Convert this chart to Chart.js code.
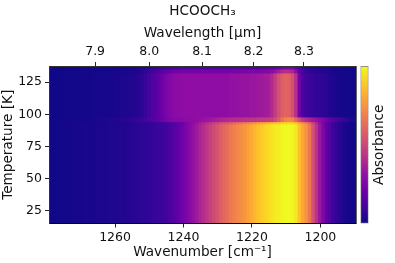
<!DOCTYPE html>
<html>
<head>
<meta charset="utf-8">
<script src="https://cdn.jsdelivr.net/npm/chart.js@4"></script>
<style>
  html, body { margin: 0; padding: 0; background: #fff; }
  #wrap { position: relative; width: 395px; height: 263px; filter: blur(0.5px); }
  #heat { position: absolute; left: 0; top: 0; }
  #cbar { position: absolute; left: 357px; top: 0; }
</style>
</head>
<body>
<div id="wrap">
  <canvas id="heat" width="395" height="263"></canvas>
  <canvas id="cbar" width="38" height="263"></canvas>
</div>
<script>
// wavenumber of each column, 1279 down to 1189 cm-1
var wavenumbers = [
  1279,1278,1277,1276,1275,1274,1273,1272,1271,1270,
  1269,1268,1267,1266,1265,1264,1263,1262,1261,1260,
  1259,1258,1257,1256,1255,1254,1253,1252,1251,1250,
  1249,1248,1247,1246,1245,1244,1243,1242,1241,1240,
  1239,1238,1237,1236,1235,1234,1233,1232,1231,1230,
  1229,1228,1227,1226,1225,1224,1223,1222,1221,1220,
  1219,1218,1217,1216,1215,1214,1213,1212,1211,1210,
  1209,1208,1207,1206,1205,1204,1203,1202,1201,1200,
  1199,1198,1197,1196,1195,1194,1193,1192,1191,1190,1189
];

// absorbance per column, one list per temperature band
var amorphous = [
  .005,.006,.008,.010,.012,.014,.016,.018,.019,.021,
  .023,.024,.026,.027,.028,.030,.031,.032,.034,.036,
  .038,.040,.043,.046,.049,.053,.057,.061,.065,.070,
  .075,.080,.085,.090,.10,.12,.14,.16,.19,.22,
  .25,.28,.31,.345,.38,.41,.445,.48,.51,.54,
  .58,.61,.635,.665,.69,.71,.73,.75,.78,.81,
  .84,.87,.89,.91,.93,.95,.97,.98,.99,1.0,
  1.0,.99,.96,.87,.80,.74,.66,.54,.43,.33,
  .25,.17,.14,.09,.07,.05,.03,.02,.015,.012,.01
];
var amorphousEdge = [
  .005,.006,.008,.010,.012,.014,.016,.018,.019,.021,
  .023,.024,.026,.027,.028,.030,.031,.032,.034,.036,
  .038,.040,.043,.046,.049,.053,.057,.061,.065,.070,
  .075,.080,.085,.090,.10,.12,.14,.16,.18,.21,
  .24,.27,.30,.33,.36,.39,.42,.45,.48,.50,
  .53,.55,.57,.59,.62,.64,.66,.68,.70,.73,
  .75,.78,.80,.82,.84,.86,.88,.89,.91,.92,
  .92,.91,.88,.80,.74,.68,.61,.50,.40,.31,
  .24,.17,.14,.09,.07,.05,.03,.02,.015,.012,.01
];
var transition = [
  .005,.006,.007,.008,.010,.011,.013,.014,.016,.017,
  .019,.020,.022,.024,.026,.028,.030,.032,.035,.038,
  .041,.045,.050,.056,.063,.072,.082,.093,.105,.12,
  .14,.16,.18,.21,.23,.25,.26,.27,.28,.28,
  .29,.29,.30,.30,.31,.32,.33,.34,.35,.37,
  .38,.39,.40,.41,.41,.42,.42,.43,.43,.44,
  .44,.45,.45,.46,.47,.48,.52,.58,.65,.71,
  .72,.70,.62,.52,.44,.40,.37,.34,.31,.28,
  .25,.21,.18,.15,.12,.10,.08,.06,.04,.03,.02
];
var crystalline = [
  .004,.005,.006,.007,.008,.009,.010,.011,.012,.013,
  .014,.015,.016,.017,.018,.019,.020,.021,.022,.024,
  .026,.028,.031,.034,.037,.042,.05,.06,.08,.11,
  .13,.15,.18,.21,.24,.26,.28,.29,.295,.30,
  .30,.30,.30,.30,.30,.30,.30,.30,.30,.30,
  .30,.30,.30,.31,.31,.31,.32,.32,.32,.33,
  .33,.34,.34,.35,.36,.40,.47,.53,.58,.60,
  .59,.53,.42,.22,.13,.10,.09,.08,.07,.07,
  .06,.05,.04,.03,.02,.02,.015,.01,.01,.01,.01
];
var upperBand = [
  .004,.005,.005,.006,.006,.007,.008,.008,.009,.010,
  .011,.011,.012,.013,.014,.014,.015,.016,.017,.018,
  .019,.021,.023,.025,.028,.031,.038,.048,.06,.08,
  .10,.12,.14,.16,.18,.20,.21,.22,.22,.23,
  .23,.23,.23,.23,.23,.23,.23,.23,.23,.23,
  .23,.23,.23,.24,.24,.24,.24,.25,.25,.25,
  .25,.25,.26,.26,.27,.29,.32,.36,.40,.41,
  .41,.38,.30,.18,.11,.08,.07,.06,.05,.05,
  .04,.04,.03,.02,.02,.02,.01,.01,.01,.01,.01
];
var topBand = [
  .003,.003,.004,.004,.005,.005,.006,.006,.007,.007,
  .008,.008,.009,.009,.010,.010,.011,.012,.012,.013,
  .014,.015,.016,.018,.020,.022,.026,.032,.04,.05,
  .06,.07,.08,.09,.10,.11,.11,.12,.12,.13,
  .13,.13,.13,.13,.13,.13,.13,.13,.13,.13,
  .13,.13,.13,.13,.13,.14,.14,.14,.14,.14,
  .14,.14,.15,.15,.15,.16,.17,.19,.22,.24,
  .24,.22,.18,.12,.07,.05,.05,.04,.04,.03,
  .03,.03,.02,.02,.02,.01,.01,.01,.01,.01,.01
];

var bandSpectra = [amorphous, amorphousEdge, transition, crystalline, upperBand, topBand];
// temperature limits of the bands in K
var bandEdges = [15, 91.5, 93.4, 97.1, 131.2, 134.3, 138];

var wavenumberTicks = [1260, 1240, 1220, 1200];
var wavelengthTicks = [7.9, 8.0, 8.1, 8.2, 8.3];
var temperatureTicks = [25, 50, 75, 100, 125];

// plasma colormap
var plasma = [
  [13,8,135],[65,4,157],[106,0,168],[143,13,164],[177,42,144],[204,71,120],
  [225,100,98],[242,132,75],[252,166,54],[252,206,37],[240,249,33]
];

function plasmaColor(v) {
  var p = Math.min(Math.max(v, 0), 1) * (plasma.length - 1);
  var i = Math.min(Math.floor(p), plasma.length - 2);
  var f = p - i;
  var c = plasma[i].map(function (a, k) { return Math.round(a + (plasma[i + 1][k] - a) * f); });
  return 'rgb(' + c.join(',') + ')';
}

var fontName = '"DejaVu Sans"';
var tickFont = { family: fontName, size: 12.5, weight: 'normal' };
var labelFont = { family: fontName, size: 13.6, weight: 'normal' };
var lineColor = '#222';

function fixedSize(prop, px) {
  return function (scale) { scale[prop] = px; };
}

var datasets = bandSpectra.map(function (spectrum, b) {
  return {
    data: wavenumbers.map(function (w) {
      return { x: w, y: [bandEdges[b], bandEdges[b + 1]] };
    }),
    backgroundColor: function (ctx) { return plasmaColor(spectrum[ctx.dataIndex]); },
    borderWidth: 0,
    inflateAmount: 0.6,
    grouped: false,
    barPercentage: 1,
    categoryPercentage: 1,
    xAxisID: 'x',
    yAxisID: 'y'
  };
});

new Chart(document.getElementById('heat').getContext('2d'), {
  type: 'bar',
  data: { datasets: datasets },
  options: {
    responsive: false,
    animation: false,
    layout: { padding: { left: 0, right: 39, top: 0, bottom: 0 } },
    plugins: {
      legend: { display: false },
      tooltip: { enabled: false },
      title: {
        display: true,
        text: 'HCOOCH\u2083',
        color: '#111',
        font: labelFont,
        fullSize: false,
        padding: { top: 3, bottom: 3 }
      }
    },
    scales: {
      x: {
        type: 'linear',
        position: 'bottom',
        reverse: true,
        offset: false,
        min: 1189.6,
        max: 1279.3,
        afterFit: fixedSize('height', 39.5),
        afterBuildTicks: function (scale) {
          scale.ticks = wavenumberTicks.map(function (v) { return { value: v }; });
        },
        title: { display: true, text: 'Wavenumber [cm\u207B\u00B9]', color: '#111', font: labelFont, padding: { top: 0, bottom: 2.8 } },
        ticks: {
          color: '#111', font: tickFont, padding: 3, maxRotation: 0, autoSkip: false,
          callback: function (v) { return String(v); }
        },
        grid: { offset: false, drawOnChartArea: false, tickLength: 4, tickColor: lineColor, z: 1 },
        border: { color: '#000', z: 1 }
      },
      x2: {
        type: 'linear',
        axis: 'x',
        position: 'top',
        reverse: true,
        offset: false,
        min: 1189.6,
        max: 1279.3,
        afterFit: fixedSize('height', 43.7),
        afterBuildTicks: function (scale) {
          scale.ticks = wavelengthTicks.map(function (l) { return { value: 1e4 / l }; });
        },
        title: { display: true, text: 'Wavelength [\u03BCm]', color: '#111', font: labelFont, padding: { top: 2.5, bottom: 0 } },
        ticks: {
          color: '#111', font: tickFont, padding: 3, maxRotation: 0, autoSkip: false,
          callback: function (v) { return (1e4 / v).toFixed(1); }
        },
        grid: { offset: false, drawOnChartArea: false, tickLength: 4, tickColor: lineColor, z: 1 },
        border: { color: '#333', z: 1 }
      },
      y: {
        type: 'linear',
        position: 'left',
        min: 15.3,
        max: 137.4,
        afterFit: fixedSize('width', 49),
        afterBuildTicks: function (scale) {
          scale.ticks = temperatureTicks.map(function (v) { return { value: v }; });
        },
        title: { display: true, text: 'Temperature [K]', color: '#111', font: labelFont, padding: { top: 0, bottom: 0 } },
        ticks: { color: '#111', font: tickFont, padding: 3, autoSkip: false },
        grid: { drawOnChartArea: false, tickLength: 4, tickColor: lineColor, z: 1 },
        border: { color: '#333', z: 1 }
      },
      y2: {
        type: 'linear',
        position: 'right',
        min: 15.3,
        max: 137.4,
        afterFit: fixedSize('width', 0),
        ticks: { display: false },
        grid: { drawOnChartArea: false, drawTicks: false },
        border: { color: '#666', z: 1 }
      }
    }
  }
});

// colorbar
var colorbarRange = [0, 1];
var colorbarName = 'Absorbance';

var colorbarLabel = {
  id: 'colorbarLabel',
  afterDraw: function (chart) {
    var c = chart.ctx, a = chart.chartArea;
    c.save();
    c.translate(a.right + 10.5, (a.top + a.bottom) / 2);
    c.rotate(-Math.PI / 2);
    c.font = '13.6px ' + fontName;
    c.fillStyle = '#111';
    c.textAlign = 'center';
    c.textBaseline = 'middle';
    c.fillText(colorbarName, 0, 0);
    c.restore();
  }
};

new Chart(document.getElementById('cbar').getContext('2d'), {
  type: 'bar',
  data: {
    labels: [''],
    datasets: [{
      data: [colorbarRange],
      barPercentage: 1,
      categoryPercentage: 1,
      borderWidth: 1,
      borderColor: '#777',
      borderSkipped: false,
      backgroundColor: function (ctx) {
        var a = ctx.chart.chartArea;
        if (!a) return '#000';
        var g = ctx.chart.ctx.createLinearGradient(0, a.bottom, 0, a.top);
        plasma.forEach(function (c, i) {
          g.addColorStop(i / (plasma.length - 1), 'rgb(' + c.join(',') + ')');
        });
        return g;
      }
    }]
  },
  options: {
    responsive: false,
    animation: false,
    layout: { padding: { left: 3.5, right: 26.5, top: 66, bottom: 39.5 } },
    plugins: { legend: { display: false }, tooltip: { enabled: false } },
    scales: {
      x: { display: false },
      y: { display: false, min: 0, max: 1 }
    }
  },
  plugins: [colorbarLabel]
});
</script>
</body>
</html>
